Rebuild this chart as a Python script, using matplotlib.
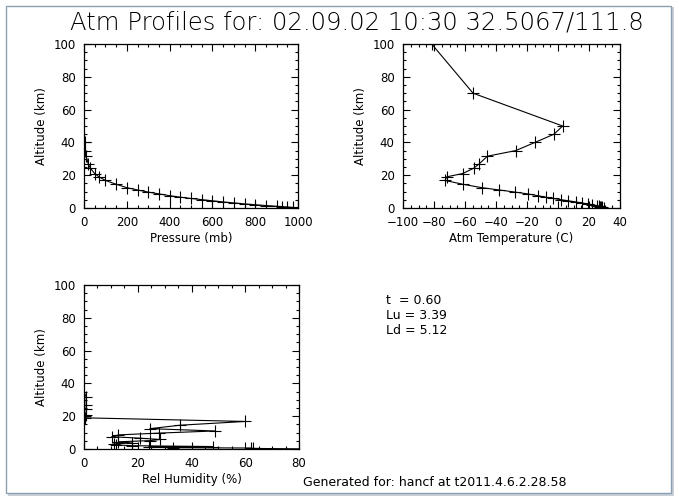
import matplotlib
matplotlib.use("Agg")
import matplotlib.pyplot as plt
from matplotlib.ticker import MultipleLocator, AutoMinorLocator
from matplotlib.patches import Rectangle

# ---- data (levels ordered from the ground up) ----
pressure_mb = [1000, 975, 950, 925, 900, 850, 800, 750, 700, 650, 600, 550, 500,
               450, 400, 350, 300, 250, 200, 150, 100, 70, 50, 30, 20, 10,
               5.75, 2.87, 1.49, 0.80, 0.052, 0.0003]
altitude_km = [0.1, 0.35, 0.6, 0.8, 1.05, 1.5, 2.0, 2.5, 3.1, 3.7, 4.4, 5.1, 5.8,
               6.6, 7.5, 8.6, 9.7, 11.0, 12.4, 14.5, 16.8, 19.0, 21.0, 24.2, 26.8, 31.6,
               35, 40, 45, 50, 70, 100]
temperature_c = [29.5, 28.5, 27.5, 27.0, 26.4, 24.9, 22.1, 19.1, 15.2, 11.4, 6.6, 1.7, -3.0,
                 -7.8, -13.1, -19.6, -27.7, -38.0, -49.2, -61.5, -72.9, -71.8, -61.5, -54.5, -51.0, -45.5,
                 -27.3, -14.8, -2.6, 3.0, -54.8, -81.5]
rel_humidity = [80, 63, 62, 33, 24, 48, 18, 12, 11, 17.7, 12.8, 24.5, 28.3,
                20.8, 10.3, 12.8, 28, 48.7, 24.5, 35.7, 60, 0.5, 0.8, 0.8, 0.8, 0.8,
                0.0, 0.0, 0.0, 0.0, 0.0, 0.0]

title = "Atm Profiles for: 02.09.02 10:30 32.5067/111.8"
param_lines = ["t  = 0.60", "Lu = 3.39", "Ld = 5.12"]
footer = "Generated for: hancf at t2011.4.6.2.28.58"

W, H = 679, 501
fig = plt.figure(figsize=(W / 100, H / 100), dpi=100)
plt.rcParams['font.family'] = ['DejaVu Sans']

# window-like frame
fig.patches.append(Rectangle((8 / W, 1 - 496 / H), 666 / W, 489 / H, transform=fig.transFigure,
                             facecolor='#c9d0d8', edgecolor='none', zorder=-3))
fig.patches.append(Rectangle((6 / W, 1 - 493 / H), 665 / W, 487 / H, transform=fig.transFigure,
                             facecolor='white', edgecolor='#8d9fb2', linewidth=1.0, zorder=-2))


def make_ax(left, top, right, bottom):
    ax = fig.add_axes([left / W, 1 - bottom / H, (right - left) / W, (bottom - top) / H])
    ax.patch.set_alpha(0)
    return ax


def style(ax, xlim, xmaj, ylabel=True):
    ax.set_xlim(*xlim)
    ax.set_ylim(0, 100)
    ax.xaxis.set_major_locator(MultipleLocator(xmaj))
    ax.xaxis.set_minor_locator(AutoMinorLocator(4))
    ax.yaxis.set_major_locator(MultipleLocator(20))
    ax.yaxis.set_minor_locator(AutoMinorLocator(4))
    ax.tick_params(which='both', direction='in', top=True, right=True, width=0.8,
                   labelsize=8.5, pad=6, colors='black')
    ax.tick_params(which='major', length=5)
    ax.tick_params(which='minor', length=2.5)
    for s in ax.spines.values():
        s.set_linewidth(0.9)
    if ylabel:
        ax.set_ylabel("Altitude (km)", fontsize=8.5, labelpad=4)


def profile(ax, xs, ys, xmin, xmax):
    # hide the "+" symbols of points lying on the left frame
    span = xmax - xmin
    marks = [i for i, v in enumerate(xs) if v - xmin > 0.002 * span]
    ax.plot(xs, ys, color='black', linewidth=0.8, marker='+', markersize=8,
            markeredgewidth=0.8, markevery=marks)


ax1 = make_ax(84, 44, 298, 208)
profile(ax1, pressure_mb, altitude_km, 0, 1000)
style(ax1, (0, 1000), 200)
ax1.set_xlabel("Pressure (mb)", fontsize=8.5, labelpad=2)

ax2 = make_ax(403, 44, 620, 208)
profile(ax2, temperature_c, altitude_km, -100, 40)
style(ax2, (-100, 40), 20)
ax2.set_xticks([-100, -80, -60, -40, -20, 0, 20, 40])
ax2.set_xticklabels(["\u2212100", "\u221280", "\u221260", "\u221240", "\u221220", "0", "20", "40"])
ax2.set_xlabel("Atm Temperature (C)", fontsize=8.5, labelpad=2)

ax3 = make_ax(84, 285, 299, 449)
profile(ax3, rel_humidity, altitude_km, 0, 80)
style(ax3, (0, 80), 20)
ax3.set_xlabel("Rel Humidity (%)", fontsize=8.5, labelpad=2)

fig.text(357 / W, 1 - 22 / H, title, fontsize=17.5, fontweight='light', ha='center', va='center')
for i, s in enumerate(param_lines):
    fig.text(386 / W, 1 - (301 + 14.5 * i) / H, s, fontsize=9, ha='left', va='center')
fig.text(303 / W, 1 - 483 / H, footer, fontsize=9, ha='left', va='center')

fig.savefig("out.png", dpi=100)
